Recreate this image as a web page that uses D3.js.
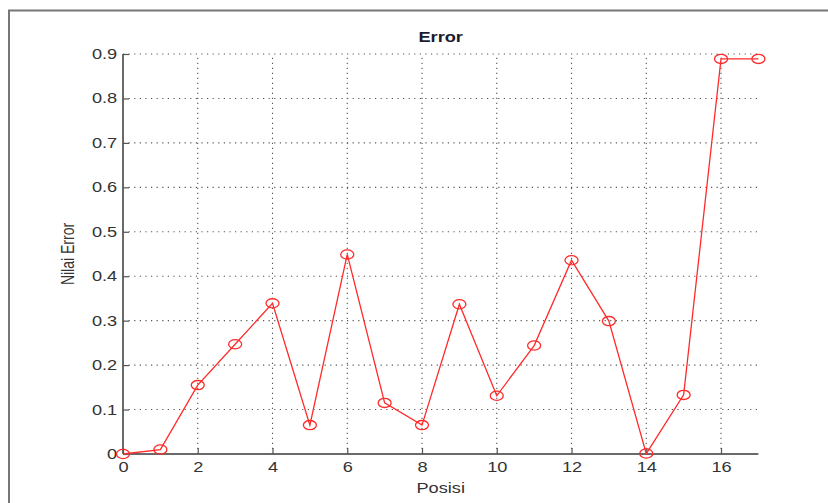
<!DOCTYPE html>
<html>
<head>
<meta charset="utf-8">
<script src="https://cdn.jsdelivr.net/npm/d3@7"></script>
<style>
  body { margin: 0; background: #fff; }
  svg { display: block; font-family: "Liberation Sans", Arial, sans-serif; }
</style>
</head>
<body>
<div id="chart"></div>
<script>
// values
const posisi = [0, 1, 2, 3, 4, 5, 6, 7, 8, 9, 10, 11, 12, 13, 14, 15, 16, 17];
const nilaiError = [0, 0.01, 0.155, 0.247, 0.339, 0.065, 0.449, 0.115, 0.065, 0.337,
  0.131, 0.244, 0.436, 0.299, 0.001, 0.133, 0.889, 0.889];
const xTicks = [0, 2, 4, 6, 8, 10, 12, 14, 16];
const yTicks = [0, 0.1, 0.2, 0.3, 0.4, 0.5, 0.6, 0.7, 0.8, 0.9];

const w = 828, h = 503;
const stretch = 1.3; // picture is wider than the original figure

const svg = d3.select('#chart').append('svg')
  .attr('width', w)
  .attr('height', h);

// figure frame
svg.append('path')
  .attr('d', `M9,${h} V10.5 H${w}`)
  .attr('fill', 'none')
  .attr('stroke', '#777')
  .attr('stroke-width', 2);

const x = d3.scaleLinear().domain([0, 17]).range([123, 758.4]);
const y = d3.scaleLinear().domain([0, 0.9]).range([454, 54]);

// grid
const grid = svg.append('g')
  .attr('stroke', '#555')
  .attr('stroke-width', 1.1)
  .attr('stroke-dasharray', '1.2,4.4');
grid.selectAll('line.h')
  .data(yTicks.filter(function(d) { return d > 0; }))
  .enter().append('line')
  .attr('x1', x(0)).attr('x2', x(17))
  .attr('y1', function(d) { return y(d); })
  .attr('y2', function(d) { return y(d); });
grid.selectAll('line.v')
  .data(xTicks.filter(function(d) { return d > 0; }))
  .enter().append('line')
  .attr('x1', function(d) { return x(d); })
  .attr('x2', function(d) { return x(d); })
  .attr('y1', y(0)).attr('y2', y(0.9))
  .attr('stroke-dasharray', '1.2,3.8');

// axes, ticks pointing inward
const yAxis = svg.append('g')
  .attr('transform', `translate(${x(0)},0)`)
  .call(d3.axisLeft(y).tickValues(yTicks).tickSize(-6).tickPadding(4.5)
    .tickFormat(function(d) { return d === 0 ? '0' : d3.format('.1f')(d); }));
const xAxis = svg.append('g')
  .attr('transform', `translate(0,${y(0)})`)
  .call(d3.axisBottom(x).tickValues(xTicks).tickSize(-6).tickPadding(8));

[yAxis, xAxis].forEach(function(a) {
  a.select('.domain').attr('stroke', '#6a6a6a').attr('stroke-width', 2);
  a.selectAll('.tick line').attr('stroke', '#555').attr('stroke-width', 1.2);
  a.selectAll('.tick text')
    .attr('font-size', 14)
    .attr('fill', '#333')
    .attr('transform', `scale(${stretch},1)`);
});
// the y domain path has outer ticks; redraw it as a plain line
yAxis.select('.domain').attr('d', `M0,${y(0.9)}V${y(0)}`);
xAxis.select('.domain').attr('d', `M0,0H${x(17) - x(0)}`)
  .attr('transform', `translate(${x(0)},0)`);

// series
const line = d3.line()
  .x(function(d, i) { return x(posisi[i]); })
  .y(function(d) { return y(d); });
svg.append('path')
  .datum(nilaiError)
  .attr('d', line)
  .attr('fill', 'none')
  .attr('stroke', '#ff2a2a')
  .attr('stroke-width', 1.3);
svg.selectAll('ellipse.mk')
  .data(nilaiError)
  .enter().append('ellipse')
  .attr('cx', function(d, i) { return x(posisi[i]); })
  .attr('cy', function(d) { return y(d); })
  .attr('rx', 6.5)
  .attr('ry', 4.6)
  .attr('fill', 'none')
  .attr('stroke', '#ff2a2a')
  .attr('stroke-width', 1.3);

// labels
const cx = (x(0) + x(17)) / 2;
svg.append('text')
  .attr('transform', `translate(${cx},42) scale(${stretch},1)`)
  .attr('text-anchor', 'middle')
  .attr('font-size', 14)
  .attr('font-weight', 'bold')
  .attr('fill', '#1c1c2e')
  .text('Error');
svg.append('text')
  .attr('transform', `translate(${cx},493) scale(${stretch},1)`)
  .attr('text-anchor', 'middle')
  .attr('font-size', 14)
  .attr('fill', '#333')
  .text('Posisi');
svg.append('text')
  .attr('transform', `translate(74,${(y(0) + y(0.9)) / 2}) scale(${stretch},1) rotate(-90)`)
  .attr('text-anchor', 'middle')
  .attr('font-size', 14)
  .attr('fill', '#333')
  .text('Nilai Error');
</script>
</body>
</html>
